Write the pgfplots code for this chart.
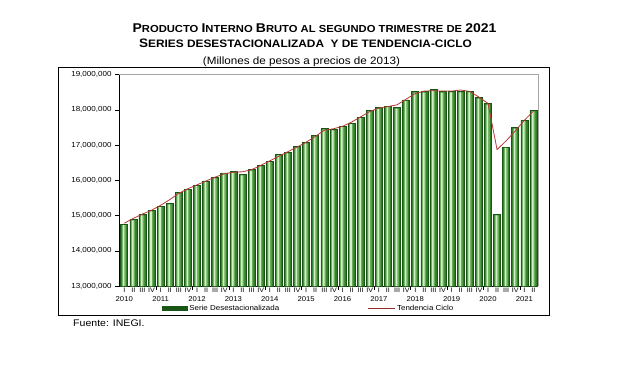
\documentclass[border=0pt]{standalone}
\usepackage{fontspec}
\setmainfont[FakeStretch=1.1]{Liberation Sans}
\usepackage{pgfplots}
\pgfplotsset{compat=1.18}
\usepackage{pgfplotstable}

\definecolor{barline}{RGB}{25,85,20}
\definecolor{bardark}{RGB}{50,125,42}
\definecolor{barmid}{RGB}{105,175,90}
\definecolor{barlight}{RGB}{210,240,198}
\definecolor{trendred}{RGB}{185,55,55}

\tikzset{year/.style={font=\fontsize{7bp}{8bp}\selectfont, inner sep=0pt, yshift=-13bp}}

\pgfplotstableread{
k sa trend
0 14750000 14780000
1 14890000 14920000
2 15030000 15040000
3 15140000 15150000
4 15260000 15290000
5 15340000 15450000
6 15650000 15630000
7 15750000 15760000
8 15860000 15870000
9 15980000 15980000
10 16080000 16090000
11 16210000 16180000
12 16240000 16230000
13 16160000 16240000
14 16300000 16300000
15 16420000 16420000
16 16540000 16550000
17 16730000 16680000
18 16790000 16810000
19 16960000 16940000
20 17070000 17080000
21 17270000 17240000
22 17460000 17420000
23 17440000 17460000
24 17530000 17530000
25 17620000 17650000
26 17790000 17800000
27 17980000 17950000
28 18060000 18050000
29 18100000 18090000
30 18060000 18140000
31 18280000 18300000
32 18510000 18460000
33 18510000 18530000
34 18570000 18540000
35 18510000 18530000
36 18520000 18530000
37 18520000 18560000
38 18520000 18520000
39 18340000 18360000
40 18170000 18180000
41 15030000 16870000
42 16940000 17120000
43 17490000 17400000
44 17700000 17700000
45 17980000 17960000
}\gdpdata

\newcommand{\tbig}{\fontsize{12.7bp}{14bp}\selectfont}
\newcommand{\tsm}{\fontsize{10.2bp}{12bp}\selectfont}
\newcommand{\sbig}{\fontsize{12.3bp}{14bp}\selectfont}
\newcommand{\ssm}{\fontsize{10.8bp}{12bp}\selectfont}

\begin{document}
\begin{tikzpicture}
\path[use as bounding box] (0,0) rectangle (627bp,-371bp);
% titles
\node[anchor=base, inner sep=0pt] at (314.5bp,-32.7bp) {\bfseries\tbig P\tsm RODUCTO \tbig I\tsm NTERNO \tbig B\tsm RUTO AL SEGUNDO TRIMESTRE DE \tbig 2021};
\node[anchor=base, inner sep=0pt] at (305.5bp,-47.3bp) {\bfseries\sbig S\ssm ERIES DESESTACIONALIZADA\ \ Y DE TENDENCIA-CICLO};
\node[anchor=base, inner sep=0pt] at (301.5bp,-64bp) {\fontsize{10.6bp}{12bp}\selectfont (Millones de pesos a precios de 2013)};
% frame
\draw[line width=1bp] (58.3bp,-67.5bp) -- (549bp,-67.5bp) -- (549bp,-315bp) -- (58.3bp,-315bp) -- cycle;
\node[anchor=base west, inner sep=0pt] at (73bp,-326bp) {\fontsize{9.6bp}{11bp}\selectfont Fuente: INEGI.};

\begin{axis}[
  at={(119bp,-286bp)}, anchor=south west,
  scale only axis, width=419bp, height=211.5bp,
  clip mode=individual,
  xmin=-0.58, xmax=45.5,
  ymin=13000000, ymax=19000000,
  axis lines*=left,
  axis line style={black, line width=0.6bp},
  ytick={13000000,14000000,15000000,16000000,17000000,18000000,19000000},
  scaled y ticks=false,
  yticklabel style={font=\fontsize{7.3bp}{8bp}\selectfont, /pgf/number format/.cd, fixed, 1000 sep={,}, assume math mode=true},
  tick align=outside, major tick length=4bp,
  ytick style={black, line width=0.5bp},
  xtick={0,...,45},
  xticklabels={I,II,III,IV,I,II,III,IV,I,II,III,IV,I,II,III,IV,I,II,III,IV,I,II,III,IV,I,II,III,IV,I,II,III,IV,I,II,III,IV,I,II,III,IV,I,II,III,IV,I,II},
  xtick style={draw=none},
  xticklabel style={font=\fontsize{6.5bp}{7bp}\selectfont, anchor=north, inner sep=0pt, yshift=2.6bp},
  extra x ticks={3.5,7.5,11.5,15.5,19.5,23.5,27.5,31.5,35.5,39.5,43.5},
  extra x tick labels={},
  extra x tick style={xtick style={draw=black, line width=0.5bp}, major tick length=4bp},
  legend columns=2,
  legend style={at={(0.1026,-0.106)}, anchor=west, draw=none, fill=none,
    inner sep=0pt, font=\fontsize{7.25bp}{8bp}\selectfont,
    nodes={inner sep=1.5bp},
    /tikz/every even column/.append style={column sep=87bp}},
]
\draw[gray!70, line width=0.6bp] (rel axis cs:0,1) -- (rel axis cs:1,1) -- (rel axis cs:1,0);
\addplot[ybar, bar width=7bp, bar shift=0bp, draw=barline, line width=0.6bp, fill=bardark,
  legend image code/.code={
    \fill[bardark] (0bp,-2.3bp) rectangle (25bp,2.3bp);
    \fill[barmid] (3bp,-2.3bp) rectangle (20bp,2.3bp);
    \fill[barlight] (7bp,-2.3bp) rectangle (14bp,2.3bp);
    \draw[barline, line width=0.5bp] (0bp,-2.3bp) rectangle (25bp,2.3bp);}]
  table[x=k, y=sa]{\gdpdata};
\addlegendentry{Serie Desestacionalizada}
\addplot[ybar, bar width=4.2bp, bar shift=-0.3bp, draw=none, fill=barmid, forget plot]
  table[x=k, y expr=\thisrow{sa}-25000]{\gdpdata};
\addplot[ybar, bar width=1.6bp, bar shift=-0.6bp, draw=none, fill=barlight, forget plot]
  table[x=k, y expr=\thisrow{sa}-25000]{\gdpdata};
\addplot[trendred, line width=0.8bp, mark=none,
  legend image code/.code={\draw[trendred!80!black, line width=0.8bp] (0bp,0bp) -- (27bp,0bp);}]
  table[x=k, y=trend]{\gdpdata};
\addlegendentry{Tendencia Ciclo}
\node[year] at (axis cs:0,13000000) {2010};
\node[year] at (axis cs:4,13000000) {2011};
\node[year] at (axis cs:8,13000000) {2012};
\node[year] at (axis cs:12,13000000) {2013};
\node[year] at (axis cs:16,13000000) {2014};
\node[year] at (axis cs:20,13000000) {2015};
\node[year] at (axis cs:24,13000000) {2016};
\node[year] at (axis cs:28,13000000) {2017};
\node[year] at (axis cs:32,13000000) {2018};
\node[year] at (axis cs:36,13000000) {2019};
\node[year] at (axis cs:40,13000000) {2020};
\node[year] at (axis cs:44,13000000) {2021};
\end{axis}
\end{tikzpicture}
\end{document}
